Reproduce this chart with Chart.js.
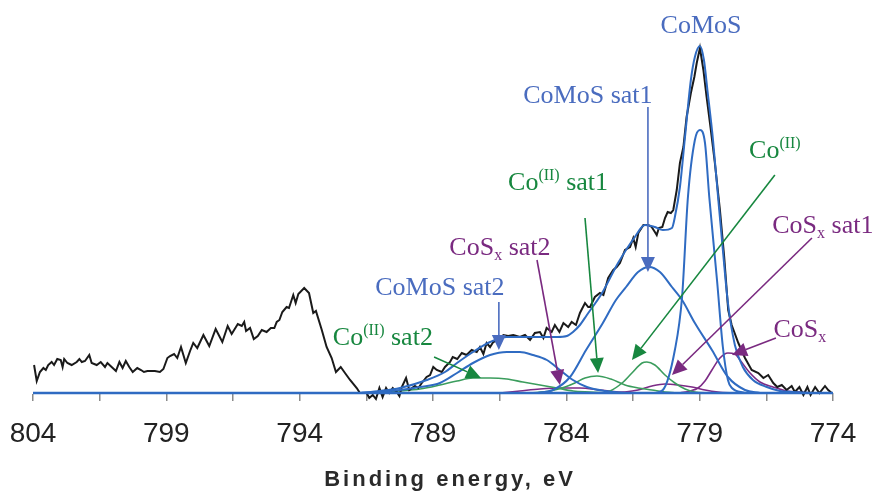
<!DOCTYPE html>
<html>
<head>
<meta charset="utf-8">
<script src="https://cdn.jsdelivr.net/npm/chart.js@4.4.1/dist/chart.umd.min.js"></script>
<style>
  html, body { margin: 0; background: #fff; }
</style>
</head>
<body>
<canvas id="xps" width="877" height="492"></canvas>
<script>
// Co 2p3/2 spectrum, binding energy (eV) vs intensity (arb. units)
const measuredE = [803.96, 803.86, 803.74, 803.61, 803.52, 803.43, 803.30, 803.21, 803.09, 802.96,
  802.89, 802.83, 802.71, 802.55, 802.36, 802.26, 802.17, 802.05, 801.89, 801.80,
  801.61, 801.46, 801.30, 801.21, 801.05, 800.89, 800.76, 800.64, 800.52, 800.39,
  800.26, 800.09, 799.95, 799.84, 799.71, 799.59, 799.43, 799.24, 799.11, 798.96,
  798.86, 798.71, 798.59, 798.45, 798.27, 798.11, 797.99, 797.84, 797.61, 797.39,
  797.15, 796.90, 796.70, 796.55, 796.32, 796.17, 796.08, 796.01, 795.86, 795.72,
  795.57, 795.42, 795.24, 795.08, 794.95, 794.86, 794.76, 794.65, 794.49, 794.40,
  794.24, 794.15, 794.05, 793.83, 793.65, 793.61, 793.49, 793.39, 793.17, 792.99,
  792.80, 792.64, 792.46, 792.30, 792.11, 791.86, 791.74, 791.49, 791.39, 791.26,
  791.14, 791.01, 790.89, 790.76, 790.64, 790.51, 790.36, 790.26, 790.17, 790.01,
  789.89, 789.68, 789.55, 789.42, 789.24, 789.11, 788.99, 788.86, 788.67, 788.55,
  788.36, 788.26, 788.09, 787.92, 787.74, 787.55, 787.36, 787.24, 787.11, 786.99,
  786.86, 786.74, 786.55, 786.36, 786.18, 785.99, 785.74, 785.55, 785.36, 785.18,
  784.99, 784.86, 784.74, 784.55, 784.43, 784.26, 784.11, 783.93, 783.80, 783.64,
  783.49, 783.30, 783.18, 783.11, 782.93, 782.74, 782.61, 782.43, 782.24, 782.11,
  781.99, 781.80, 781.61, 781.49, 781.40, 781.30, 781.11, 780.93, 780.80, 780.68,
  780.61, 780.53, 780.40, 780.30, 780.20, 780.08, 779.99, 779.86, 779.74, 779.61,
  779.49, 779.33, 779.20, 779.11, 778.99, 778.86, 778.74, 778.58, 778.43, 778.24,
  778.08, 777.93, 777.80, 777.55, 777.30, 777.05, 776.80, 776.61, 776.43, 776.24,
  776.09, 775.92, 775.74, 775.55, 775.43, 775.26, 775.11, 774.96, 774.84, 774.67,
  774.51, 774.30, 774.18, 774.05];
const measuredI = [28, 12, 21, 25, 23, 28, 31, 28, 34, 33,
  26, 34, 30, 28, 31, 34, 31, 32, 38, 30,
  28, 31, 26, 30, 26, 22, 31, 25, 32, 26,
  21, 25, 23, 21, 22, 22, 22, 21, 24, 35,
  37, 39, 35, 46, 30, 42, 50, 45, 58, 47,
  64, 51, 67, 59, 69, 67, 71, 62, 65, 54,
  57, 63, 61, 65, 65, 71, 73, 81, 86, 85,
  98, 90, 99, 105, 100, 95, 80, 82, 63, 46,
  35, 21, 26, 20, 13, 5, 0, 0, -5, -2,
  -6, 5, -4, 5, 0, 5, 1, -3, 6, 15,
  3, 7, 5, 10, 16, 18, 26, 23, 21, 26,
  31, 36, 34, 40, 38, 43, 41, 46, 39, 50,
  46, 51, 53, 58, 57, 58, 56, 58, 53, 60,
  61, 55, 65, 61, 68, 61, 70, 66, 71, 68,
  80, 90, 86, 86, 96, 100, 98, 115, 123, 126,
  130, 143, 146, 155, 146, 160, 168, 168, 166, 161,
  158, 165, 166, 175, 181, 180, 183, 203, 230, 246,
  276, 300, 316, 330, 345, 323, 296, 263, 230, 183,
  136, 83, 68, 50, 35, 23, 20, 15, 18, 10,
  6, 8, 3, 7, 1, 6, -2, 6, -2, 6,
  0, 7, 3, 0];

const envelopeE = [791.74, 790.99, 790.24, 789.23, 788.55, 788.10, 787.50, 786.86, 786.23, 785.63,
  784.99, 784.35, 783.98, 783.75, 783.49, 783.23, 782.66, 782.06, 781.43, 781.05,
  780.68, 780.38, 780.04, 779.93, 779.74, 779.55, 779.33, 779.18, 778.99, 778.84,
  778.71, 778.50, 778.31, 778.13, 777.94, 777.68, 777.38, 777.00, 776.48, 775.99,
  775.50, 774.86];
const envelopeI = [0, 2, 5, 13, 21, 30, 41, 51, 56, 56,
  56, 56, 57, 61, 68, 78, 100, 130, 156, 168,
  166, 163, 165, 176, 206, 256, 313, 336, 347, 333,
  303, 253, 196, 143, 90, 48, 26, 13, 6, 2,
  1, 0];

const comosE = [780.68, 780.38, 779.93, 779.66, 779.44, 779.18, 778.99, 778.80, 778.64, 778.35, 778.13, 777.94, 777.79, 777.30];
const comosI = [0, 3, 43, 96, 196, 253, 263, 250, 196, 113, 46, 13, 5, 0];

const comosSat1E = [785.06, 784.50, 783.86, 783.26, 782.63, 782.14, 781.76, 781.31, 780.90, 780.49, 780.04, 779.66, 779.18, 778.54, 777.94, 777.30, 776.74];
const comosSat1I = [0, 3, 16, 43, 70, 93, 106, 121, 126, 121, 106, 93, 70, 43, 16, 3, 0];

const comosSat2E = [791.55, 790.24, 789.49, 788.74, 788.10, 787.50, 786.86, 786.23, 785.74, 785.25, 784.73, 784.24, 783.75, 783.23, 782.55, 781.80];
const comosSat2I = [0, 3, 6, 10, 20, 30, 38, 41, 41, 38, 33, 23, 13, 6, 2, 0];

const co2E = [782.74, 782.36, 781.91, 781.54, 781.16, 780.98, 780.68, 780.30, 779.93, 779.55, 779.18, 778.64];
const co2I = [0, 2, 10, 20, 30, 31, 28, 18, 10, 4, 1, 0];

const co2Sat1E = [785.36, 784.61, 784.05, 783.68, 783.30, 782.85, 782.33, 781.80, 781.31, 780.79, 780.30, 779.74];
const co2Sat1I = [0, 2, 6, 10, 15, 17, 14, 8, 5, 3, 1, 0];

const co2Sat2E = [791.36, 790.24, 789.49, 788.74, 788.10, 787.50, 786.86, 786.23, 785.63, 784.99, 784.35, 783.75, 783.11, 782.36];
const co2Sat2I = [0, 2, 4, 8, 12, 15, 15, 14, 11, 8, 5, 2, 1, 0];

const cosxE = [779.74, 779.36, 779.06, 778.80, 778.54, 778.24, 777.94, 777.68, 777.49, 777.11, 776.74, 776.25, 775.73, 775.24, 774.68];
const cosxI = [0, 2, 5, 12, 23, 35, 40, 39, 33, 20, 11, 6, 2, 1, 0];

const cosxSat1E = [782.36, 781.80, 781.31, 780.79, 780.30, 779.81, 779.29, 778.80, 778.31, 777.68];
const cosxSat1I = [0, 1, 3, 7, 9, 8, 6, 3, 1, 0];

const cosxSat2E = [786.49, 785.74, 784.99, 784.24, 783.49, 782.74, 782.06, 781.43];
const cosxSat2I = [0, 2, 4, 5, 5, 3, 1, 0];

const baselineE = [804, 774];
const baselineI = [0, 0];

const blueLine = '#2f6bc2';
const blueText = '#4a6cbf';
const greenLine = '#3b9d5d';
const greenText = '#17873f';
const purpleLine = '#7c2b86';
const purpleText = '#7a2a80';

const axisTitle = 'Binding energy, eV';

// labels with arrows: text baseline position and arrow start/end in data units
const notes = [
  { text: [['CoMoS']], color: blueText, pos: [778.95, 360] },
  { text: [['CoMoS sat1']], color: blueText, pos: [783.19, 290], arrow: [[780.94, 286], [780.94, 121]] },
  { text: [['Co'], ['(II)', 'sup'], [' sat1']], color: greenText, pos: [784.31, 203], arrow: [[783.30, 175], [782.81, 20]] },
  { text: [['CoS'], ['x', 'sub'], [' sat2']], color: purpleText, pos: [786.49, 138], arrow: [[785.10, 133], [784.24, 8]] },
  { text: [['CoMoS sat2']], color: blueText, pos: [788.74, 98], arrow: [[786.53, 91], [786.53, 43]] },
  { text: [['Co'], ['(II)', 'sup'], [' sat2']], color: greenText, pos: [790.88, 48], arrow: [[788.96, 36], [787.20, 15]] },
  { text: [['Co'], ['(II)', 'sup']], color: greenText, pos: [776.18, 235], arrow: [[776.18, 218], [781.54, 33]] },
  { text: [['CoS'], ['x', 'sub'], [' sat1']], color: purpleText, pos: [774.38, 160], arrow: [[774.79, 155], [780.04, 18]] },
  { text: [['CoS'], ['x', 'sub']], color: purpleText, pos: [775.24, 56], arrow: [[776.14, 55], [777.79, 38]] }
];

function points(es, is) {
  return es.map((e, i) => ({ x: e, y: is[i] }));
}

function curve(label, es, is, color, width, order, smooth) {
  return {
    label: label,
    data: points(es, is),
    borderColor: color,
    borderWidth: width,
    pointRadius: 0,
    fill: false,
    clip: false,
    order: order,
    tension: 0,
    cubicInterpolationMode: smooth ? 'monotone' : 'default'
  };
}

const notePlugin = {
  id: 'notes',
  afterDatasetsDraw(chart) {
    const ctx = chart.ctx;
    const xs = chart.scales.x, ys = chart.scales.y;
    ctx.save();
    notes.forEach(n => {
      ctx.fillStyle = n.color;
      ctx.strokeStyle = n.color;
      if (n.arrow) {
        const x1 = xs.getPixelForValue(n.arrow[0][0]), y1 = ys.getPixelForValue(n.arrow[0][1]);
        const x2 = xs.getPixelForValue(n.arrow[1][0]), y2 = ys.getPixelForValue(n.arrow[1][1]);
        const a = Math.atan2(y2 - y1, x2 - x1);
        const head = 15, half = 7;
        const bx = x2 - head * Math.cos(a), by = y2 - head * Math.sin(a);
        ctx.lineWidth = 1.6;
        ctx.beginPath();
        ctx.moveTo(x1, y1);
        ctx.lineTo(bx, by);
        ctx.stroke();
        ctx.beginPath();
        ctx.moveTo(x2, y2);
        ctx.lineTo(bx - half * Math.sin(a), by + half * Math.cos(a));
        ctx.lineTo(bx + half * Math.sin(a), by - half * Math.cos(a));
        ctx.closePath();
        ctx.fill();
      }
      const parts = n.text.map(([t, kind]) => ({
        t: t, kind: kind,
        font: kind ? '16px "Liberation Serif", "Times New Roman", serif' : '26px "Liberation Serif", "Times New Roman", serif'
      }));
      let total = 0;
      parts.forEach(p => { ctx.font = p.font; p.w = ctx.measureText(p.t).width; total += p.w; });
      let cx = xs.getPixelForValue(n.pos[0]) - total / 2;
      const base = ys.getPixelForValue(n.pos[1]);
      ctx.textAlign = 'left';
      ctx.textBaseline = 'alphabetic';
      parts.forEach(p => {
        ctx.font = p.font;
        const dy = p.kind === 'sup' ? -10 : (p.kind === 'sub' ? 5 : 0);
        ctx.fillText(p.t, cx, base + dy);
        cx += p.w;
      });
    });
    // spaced-out axis title under the tick labels
    const area = chart.chartArea;
    ctx.font = 'bold 22px "Liberation Sans", Arial, sans-serif';
    ctx.letterSpacing = '3px';
    ctx.fillStyle = '#2a2a2a';
    ctx.textAlign = 'center';
    ctx.fillText(axisTitle, (area.left + area.right) / 2 + 17, area.bottom + 93);
    ctx.restore();
  }
};

const ctx = document.getElementById('xps').getContext('2d');
const xpsChart = new Chart(ctx, {
  type: 'line',
  data: {
    datasets: [
      curve('Baseline', baselineE, baselineI, blueLine, 2.5, 0, false),
      curve('Fit', envelopeE, envelopeI, blueLine, 2, 1, true),
      curve('CoMoS', comosE, comosI, blueLine, 2, 2, true),
      curve('CoMoS sat1', comosSat1E, comosSat1I, blueLine, 2, 3, true),
      curve('CoMoS sat2', comosSat2E, comosSat2I, blueLine, 2, 4, true),
      curve('Measured', measuredE, measuredI, '#1a1a1a', 2, 5, false),
      curve('Co(II)', co2E, co2I, greenLine, 1.6, 6, true),
      curve('Co(II) sat1', co2Sat1E, co2Sat1I, greenLine, 1.6, 7, true),
      curve('Co(II) sat2', co2Sat2E, co2Sat2I, greenLine, 1.6, 8, true),
      curve('CoSx', cosxE, cosxI, purpleLine, 1.6, 9, true),
      curve('CoSx sat1', cosxSat1E, cosxSat1I, purpleLine, 1.6, 10, true),
      curve('CoSx sat2', cosxSat2E, cosxSat2I, purpleLine, 1.6, 11, true)
    ]
  },
  options: {
    responsive: false,
    animation: false,
    layout: { padding: { left: 33, right: 44, top: 20, bottom: 0 } },
    plugins: {
      legend: { display: false },
      tooltip: { enabled: false }
    },
    scales: {
      x: {
        type: 'linear',
        reverse: true,
        min: 774,
        max: 804,
        afterFit: scale => {
          scale.height = 99;
          scale.paddingLeft = 0;
          scale.paddingRight = 0;
        },
        ticks: {
          stepSize: 2.5,
          maxTicksLimit: 20,
          autoSkip: false,
          maxRotation: 0,
          padding: 16,
          color: '#222',
          font: { family: '"Liberation Sans", Arial, sans-serif', size: 28 },
          callback: v => Math.abs((804 - v) % 5) < 0.01 ? String(v) : ''
        },
        grid: { drawOnChartArea: false, drawTicks: true, tickLength: 8, color: '#8a8a8a', lineWidth: 1.5 },
        border: { display: true, color: '#8a8a8a' }
      },
      y: { display: false, min: 0, max: 373 }
    }
  },
  plugins: [notePlugin]
});
</script>
</body>
</html>
